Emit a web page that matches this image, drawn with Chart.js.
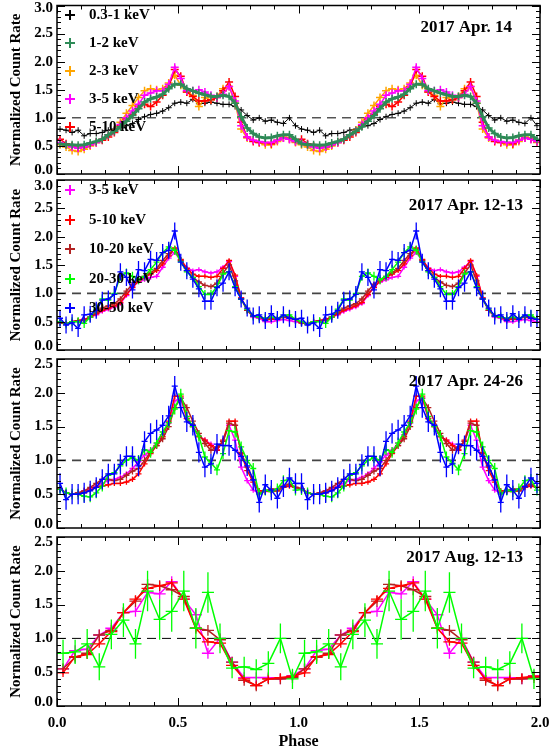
<!DOCTYPE html>
<html><head><meta charset="utf-8">
<script src="https://cdn.jsdelivr.net/npm/chart.js@4/dist/chart.umd.min.js"></script>
<style>
html,body{margin:0;padding:0;background:#fff;}
#wrap{position:relative;width:551px;height:751px;overflow:hidden;}
canvas{position:absolute;left:0;top:0;}
</style></head><body>
<div id="wrap">
<canvas id="c1" width="551" height="751"></canvas>
<canvas id="c2" width="551" height="751"></canvas>
<canvas id="c3" width="551" height="751"></canvas>
<canvas id="c4" width="551" height="751"></canvas>
</div>
<script>
// ---------- phase bins (one cycle; plotted twice) ----------
const PHASE_40 = [0.0125,0.0375,0.0625,0.0875,0.1125,0.1375,0.1625,0.1875,0.2125,0.2375,0.2625,0.2875,0.3125,0.3375,0.3625,0.3875,0.4125,0.4375,0.4625,0.4875,0.5125,0.5375,0.5625,0.5875,0.6125,0.6375,0.6625,0.6875,0.7125,0.7375,0.7625,0.7875,0.8125,0.8375,0.8625,0.8875,0.9125,0.9375,0.9625,0.9875];
const PHASE_20 = [0.025,0.075,0.125,0.175,0.225,0.275,0.325,0.375,0.425,0.475,0.525,0.575,0.625,0.675,0.725,0.775,0.825,0.875,0.925,0.975];
const X_TICKS = ['0.0','0.5','1.0','1.5','2.0'];

// ---------- 2017 Apr. 14 ----------
const APR14_0p3_1 = [0.80,0.78,0.74,0.78,0.68,0.72,0.72,0.74,0.78,0.80,0.84,0.86,0.90,0.97,1.02,1.06,1.08,1.12,1.18,1.26,1.28,1.26,1.33,1.25,1.26,1.28,1.26,1.24,1.24,1.20,1.14,1.04,0.96,1.00,0.94,0.96,0.92,0.90,1.00,0.86];
const APR14_1_2 = [0.54,0.52,0.52,0.51,0.52,0.55,0.58,0.62,0.70,0.76,0.84,0.94,1.04,1.16,1.28,1.34,1.37,1.42,1.52,1.60,1.60,1.52,1.48,1.44,1.41,1.38,1.38,1.40,1.38,1.26,1.02,0.82,0.72,0.66,0.64,0.65,0.68,0.70,0.70,0.62];
const APR14_2_3 = [0.52,0.48,0.42,0.40,0.44,0.50,0.56,0.62,0.70,0.78,0.92,1.08,1.22,1.36,1.48,1.52,1.50,1.52,1.62,1.76,1.58,1.46,1.40,1.20,1.36,1.32,1.38,1.52,1.56,1.26,0.80,0.64,0.60,0.56,0.52,0.52,0.58,0.66,0.64,0.56];
const APR14_3_5 = [0.56,0.52,0.48,0.46,0.48,0.52,0.56,0.62,0.70,0.76,0.88,1.00,1.12,1.24,1.40,1.44,1.48,1.48,1.60,1.90,1.70,1.48,1.48,1.50,1.46,1.40,1.36,1.42,1.56,1.30,0.86,0.66,0.60,0.58,0.56,0.56,0.60,0.64,0.62,0.58];
const APR14_5_10 = [0.62,0.54,0.50,0.47,0.48,0.52,0.56,0.60,0.66,0.74,0.86,0.98,1.06,1.20,1.24,1.20,1.28,1.40,1.55,1.86,1.74,1.46,1.38,1.30,1.30,1.32,1.36,1.48,1.64,1.38,0.92,0.66,0.58,0.56,0.56,0.54,0.60,0.64,0.62,0.58];

// ---------- 2017 Apr. 12-13 ----------
const APR12_3_5 = [0.48,0.46,0.50,0.52,0.54,0.58,0.62,0.68,0.72,0.76,0.82,0.96,1.12,1.20,1.24,1.28,1.30,1.46,1.62,1.72,1.58,1.45,1.40,1.42,1.38,1.36,1.38,1.46,1.56,1.30,0.92,0.70,0.58,0.56,0.50,0.50,0.52,0.54,0.52,0.50];
const APR12_5_10 = [0.48,0.46,0.50,0.52,0.54,0.58,0.64,0.70,0.74,0.78,0.84,0.98,1.10,1.22,1.28,1.34,1.40,1.52,1.66,1.80,1.60,1.44,1.34,1.30,1.30,1.28,1.30,1.44,1.58,1.32,0.92,0.70,0.60,0.58,0.54,0.54,0.56,0.58,0.56,0.54];
const APR12_10_20 = [0.48,0.46,0.50,0.52,0.52,0.58,0.66,0.74,0.78,0.82,0.90,1.04,1.16,1.24,1.30,1.36,1.44,1.58,1.70,1.78,1.58,1.40,1.28,1.20,1.14,1.12,1.18,1.36,1.50,1.22,0.90,0.70,0.60,0.58,0.54,0.56,0.56,0.58,0.58,0.54];
const APR12_20_30 = [0.50,0.46,0.50,0.50,0.47,0.58,0.72,0.90,0.88,1.00,1.30,1.36,1.30,1.24,1.30,1.42,1.55,1.72,1.82,1.76,1.56,1.38,1.28,1.12,0.98,0.98,1.12,1.34,1.38,1.12,0.90,0.72,0.60,0.58,0.56,0.58,0.56,0.60,0.62,0.54];
const APR12_30_50 = [0.56,0.44,0.48,0.38,0.62,0.63,0.70,0.88,0.90,0.98,1.38,1.28,1.06,1.42,1.40,1.60,1.58,1.72,1.76,2.10,1.55,1.40,1.25,1.08,0.86,0.86,1.10,1.18,1.38,1.10,0.90,0.74,0.60,0.62,0.52,0.64,0.54,0.62,0.56,0.54];

// ---------- 2017 Apr. 24-26 ----------
const APR24_3_5 = [0.58,0.52,0.50,0.52,0.55,0.58,0.62,0.66,0.70,0.72,0.75,0.80,0.88,0.98,1.08,1.15,1.25,1.38,1.55,1.88,1.92,1.62,1.50,1.36,1.30,1.24,1.16,1.28,1.52,1.30,0.90,0.70,0.56,0.52,0.54,0.56,0.58,0.62,0.64,0.60];
const APR24_5_10 = [0.58,0.52,0.50,0.50,0.52,0.56,0.60,0.62,0.64,0.66,0.66,0.68,0.72,0.80,0.95,1.10,1.22,1.35,1.58,1.95,1.95,1.62,1.50,1.35,1.30,1.22,1.15,1.30,1.58,1.58,1.10,0.85,0.68,0.55,0.55,0.54,0.55,0.60,0.62,0.60];
const APR24_10_20 = [0.58,0.52,0.50,0.52,0.55,0.60,0.66,0.72,0.72,0.70,0.72,0.78,0.84,0.88,1.00,1.12,1.22,1.32,1.50,1.78,1.92,1.78,1.58,1.40,1.25,1.15,1.20,1.28,1.55,1.52,1.12,0.90,0.72,0.52,0.55,0.58,0.55,0.62,0.65,0.60];
const APR24_20_30 = [0.57,0.52,0.50,0.50,0.47,0.46,0.52,0.62,0.78,0.82,0.92,1.00,1.04,1.00,1.16,1.12,1.26,1.42,1.56,1.76,1.98,1.65,1.50,1.36,1.05,0.96,0.86,1.10,1.44,1.42,1.20,1.00,0.88,0.50,0.56,0.54,0.58,0.70,0.72,0.56];
const APR24_30_50 = [0.66,0.42,0.50,0.50,0.52,0.55,0.60,0.72,0.80,0.80,0.94,1.06,1.06,0.92,1.28,1.40,1.45,1.52,1.66,2.10,1.78,1.57,1.52,1.12,0.90,0.95,1.24,1.22,1.22,1.15,1.06,0.92,0.71,0.38,0.64,0.56,0.44,0.61,0.74,0.66];

// ---------- 2017 Aug. 12-13 ----------
const AUG12_3_5 = [0.55,0.82,0.84,1.05,1.15,1.38,1.40,1.68,1.66,1.84,1.58,1.35,0.78,1.00,0.65,0.42,0.42,0.42,0.40,0.45];
const AUG12_5_10 = [0.49,0.73,0.76,0.92,1.10,1.38,1.58,1.74,1.78,1.82,1.58,1.15,0.95,0.93,0.60,0.40,0.30,0.40,0.42,0.44];
const AUG12_10_20 = [0.55,0.72,0.78,1.05,1.12,1.38,1.55,1.80,1.78,1.72,1.62,1.15,1.12,0.98,0.65,0.38,0.30,0.40,0.40,0.42];
const AUG12_20_30 = [0.78,0.80,0.92,0.58,1.06,1.27,0.92,1.70,1.28,1.40,1.70,1.15,1.68,1.00,0.56,0.58,0.54,0.63,1.00,0.40];
const AUG12_20_30_ERR = [0.20,0.18,0.22,0.20,0.22,0.25,0.22,0.30,0.30,0.30,0.30,0.30,0.30,0.22,0.15,0.15,0.15,0.18,0.22,0.15];

// ---------- colours ----------
const C_BLACK='#000000', C_SEAGREEN='#2E8B57', C_ORANGE='#FFA500', C_MAGENTA='#FF00FF',
      C_RED='#FF0000', C_BROWN='#B22222', C_GREEN='#00FF00', C_BLUE='#0000FF';
const SERIF = '"Liberation Serif","Times New Roman",Times,serif';

function twoCycles(phases, vals){
  const pts=[];
  [0,1].forEach(c=>phases.forEach((p,i)=>pts.push({x:p+c,y:vals[i]})));
  return pts;
}

// error bars / bin-width crosses, drawn per dataset to keep z-order
const errPlugin = {
  id:'errbars',
  afterDatasetDraw(chart,args){
    const ds = chart.data.datasets[args.index];
    if (ds.errY===undefined) return;
    const {ctx, chartArea:a, scales:{x,y}} = chart;
    ctx.save();
    ctx.beginPath(); ctx.rect(a.left,a.top,a.right-a.left,a.bottom-a.top); ctx.clip();
    ctx.strokeStyle = ds.borderColor; ctx.lineWidth = ds.errWidth||1.3;
    ctx.beginPath();
    const n = ds.data.length/2;
    ds.data.forEach((p,i)=>{
      const e = Array.isArray(ds.errY)? ds.errY[i%n] : ds.errY;
      const px = x.getPixelForValue(p.x), py = y.getPixelForValue(p.y);
      ctx.moveTo(x.getPixelForValue(p.x-ds.binHalf),py); ctx.lineTo(x.getPixelForValue(p.x+ds.binHalf),py);
      ctx.moveTo(px,y.getPixelForValue(p.y-e)); ctx.lineTo(px,y.getPixelForValue(p.y+e));
    });
    ctx.stroke(); ctx.restore();
  }
};

// frame with inward major/minor ticks, legend and date label
const framePlugin = {
  id:'frame',
  afterLayout(chart){
    // nudge the end labels of the y axis inward, as in the original figure
    const o = chart.options.plugins.frame;
    const s = chart.scales.y;
    const items = s.getLabelItems(chart.chartArea);
    if (!items.length) return;
    items[0].options.translation[1] -= 4;
    items[items.length-1].options.translation[1] += o.topNudge;
  },
  afterDraw(chart){
    const o = chart.options.plugins.frame;
    const {ctx, chartArea:a, scales:{x,y}} = chart;
    ctx.save();
    ctx.strokeStyle='#000'; ctx.lineWidth=1;
    ctx.beginPath();
    for(let i=0;i<=20;i++){
      const px=Math.round(x.getPixelForValue(i/10))+0.5, L=(i%5===0)?8:4;
      ctx.moveTo(px,a.bottom); ctx.lineTo(px,a.bottom-L);
      ctx.moveTo(px,a.top); ctx.lineTo(px,a.top+L);
    }
    const ny=Math.round(y.max*10);
    for(let i=0;i<=ny;i++){
      const py=Math.round(y.getPixelForValue(i/10))+0.5, L=(i%5===0)?8:4;
      ctx.moveTo(a.left,py); ctx.lineTo(a.left+L,py);
      ctx.moveTo(a.right,py); ctx.lineTo(a.right-L,py);
    }
    ctx.stroke();
    ctx.lineWidth=1.5;
    ctx.strokeRect(a.left,a.top,a.right-a.left,a.bottom-a.top);
    // legend
    ctx.font='bold 15px '+SERIF; ctx.textBaseline='middle'; ctx.textAlign='left';
    (o.legend||[]).forEach((it,k)=>{
      const yy=o.legendY[k];
      ctx.strokeStyle=it.color; ctx.lineWidth=2;
      ctx.beginPath(); ctx.moveTo(65,yy); ctx.lineTo(75,yy); ctx.moveTo(70,yy-5); ctx.lineTo(70,yy+5); ctx.stroke();
      ctx.fillStyle='#000'; ctx.fillText(it.label,89,yy);
    });
    ctx.font='bold 17px '+SERIF; ctx.textAlign='right'; ctx.fillStyle='#000';
    ctx.fillText(o.title,o.titleX,o.titleY);
    ctx.restore();
  }
};

function lineDS(label, phases, vals, color, extra){
  return Object.assign({label, data:twoCycles(phases,vals), borderColor:color, backgroundColor:color,
    borderWidth:1.5, pointRadius:0, tension:0, fill:false}, extra||{});
}
function refLine(color, width){
  return {label:'ref', data:[{x:0,y:1},{x:2,y:1}], borderColor:color||'#000', borderWidth:width||1, borderDash:[9,6],
    pointRadius:0, order:100};
}

function makeChart(id, cfg){
  const tickFont={family:SERIF,weight:'bold',size:15};
  return new Chart(document.getElementById(id),{
    type:'line',
    data:{datasets:cfg.datasets},
    options:{
      responsive:false, animation:false, devicePixelRatio:1,
      layout:{padding:{left:0,right:11,top:cfg.top,bottom:cfg.bottomPad}},
      plugins:{legend:{display:false}, tooltip:{enabled:false}, title:{display:false},
        frame:{legend:cfg.legend, legendY:cfg.legendY, title:cfg.title, titleX:cfg.titleX, titleY:cfg.titleY, topNudge:cfg.topNudge}},
      scales:{
        x:{type:'linear', min:0, max:2, display:cfg.showX,
          afterFit(s){ s.height = cfg.showX ? 45 : 0; s.paddingLeft=0; s.paddingRight=0; },
          afterBuildTicks(s){ s.ticks = X_TICKS.map(t=>({value:parseFloat(t)})); },
          ticks:{color:'#000', font:tickFont, padding:8, maxRotation:0, autoSkip:false,
            callback:(v)=>X_TICKS.find(t=>parseFloat(t)===v)},
          grid:{display:false, drawTicks:false}, border:{display:false},
          title:{display:true, text:'Phase', color:'#000', font:{family:SERIF,weight:'bold',size:16}, padding:{top:0,bottom:0}}},
        y:{min:0, max:cfg.ymax,
          afterFit(s){ s.width=57; s.paddingTop=0; s.paddingBottom=0; },
          ticks:{stepSize:0.5, color:'#000', font:tickFont, padding:4, callback:(v)=>v.toFixed(1)},
          grid:{display:false, drawTicks:false}, border:{display:false},
          title:{display:true, text:'Normalized Count Rate', color:'#000', font:{family:SERIF,weight:'bold',size:15}, padding:{top:7,bottom:0}}}
      }
    },
    plugins:[errPlugin, framePlugin]
  });
}

makeChart('c1',{
  top:5, bottomPad:751-174, showX:false, ymax:3, topNudge:3,
  title:'2017 Apr. 14', titleX:512, titleY:28,
  legend:[{label:'0.3-1 keV',color:C_BLACK},{label:'1-2 keV',color:C_SEAGREEN},{label:'2-3 keV',color:C_ORANGE},{label:'3-5 keV',color:C_MAGENTA},{label:'5-10 keV',color:C_RED}],
  legendY:[15,43,71,99,127],
  datasets:[
    refLine('#000',1),
    lineDS('0.3-1 keV',PHASE_40,APR14_0p3_1,C_BLACK,{borderWidth:1,pointStyle:'cross',pointRadius:3,pointBorderWidth:1,order:5}),
    lineDS('1-2 keV',PHASE_40,APR14_1_2,C_SEAGREEN,{borderWidth:3,pointStyle:'cross',pointRadius:4,pointBorderWidth:1.5,order:0}),
    lineDS('2-3 keV',PHASE_40,APR14_2_3,C_ORANGE,{pointStyle:'cross',pointRadius:4,pointBorderWidth:1.5,order:3}),
    lineDS('3-5 keV',PHASE_40,APR14_3_5,C_MAGENTA,{pointStyle:'cross',pointRadius:4,pointBorderWidth:1.5,order:1}),
    lineDS('5-10 keV',PHASE_40,APR14_5_10,C_RED,{pointStyle:'cross',pointRadius:4,pointBorderWidth:1.5,order:2})
  ]
});

makeChart('c2',{
  top:180, bottomPad:751-350, showX:false, ymax:3, topNudge:6,
  title:'2017 Apr. 12-13', titleX:523, titleY:206,
  legend:[{label:'3-5 keV',color:C_MAGENTA},{label:'5-10 keV',color:C_RED},{label:'10-20 keV',color:C_BROWN},{label:'20-30 keV',color:C_GREEN},{label:'30-50 keV',color:C_BLUE}],
  legendY:[190,220,249,279,308],
  datasets:[
    refLine('#444',1.6),
    lineDS('3-5 keV',PHASE_40,APR12_3_5,C_MAGENTA,{errY:0.04,binHalf:0.0125,order:5}),
    lineDS('5-10 keV',PHASE_40,APR12_5_10,C_RED,{errY:0.04,binHalf:0.0125,order:4}),
    lineDS('10-20 keV',PHASE_40,APR12_10_20,C_BROWN,{errY:0.05,binHalf:0.0125,order:3}),
    lineDS('20-30 keV',PHASE_40,APR12_20_30,C_GREEN,{errY:0.08,binHalf:0.0125,order:2}),
    lineDS('30-50 keV',PHASE_40,APR12_30_50,C_BLUE,{errY:0.15,binHalf:0.0125,order:1})
  ]
});

makeChart('c3',{
  top:359, bottomPad:751-528, showX:false, ymax:2.5, topNudge:5,
  title:'2017 Apr. 24-26', titleX:523, titleY:382,
  legend:[], legendY:[],
  datasets:[
    refLine('#444',1.6),
    lineDS('3-5 keV',PHASE_40,APR24_3_5,C_MAGENTA,{errY:0.04,binHalf:0.0125,order:5}),
    lineDS('5-10 keV',PHASE_40,APR24_5_10,C_RED,{errY:0.04,binHalf:0.0125,order:4}),
    lineDS('10-20 keV',PHASE_40,APR24_10_20,C_BROWN,{errY:0.05,binHalf:0.0125,order:3}),
    lineDS('20-30 keV',PHASE_40,APR24_20_30,C_GREEN,{errY:0.08,binHalf:0.0125,order:2}),
    lineDS('30-50 keV',PHASE_40,APR24_30_50,C_BLUE,{errY:0.15,binHalf:0.0125,order:1})
  ]
});

makeChart('c4',{
  top:537, bottomPad:0, showX:true, ymax:2.5, topNudge:5,
  title:'2017 Aug. 12-13', titleX:523, titleY:558,
  legend:[], legendY:[],
  datasets:[
    refLine('#000',1),
    lineDS('3-5 keV',PHASE_20,AUG12_3_5,C_MAGENTA,{errY:0.08,binHalf:0.025,order:4}),
    lineDS('10-20 keV',PHASE_20,AUG12_10_20,C_BROWN,{errY:0.08,binHalf:0.025,order:3}),
    lineDS('5-10 keV',PHASE_20,AUG12_5_10,C_RED,{errY:0.06,binHalf:0.025,order:2}),
    lineDS('20-30 keV',PHASE_20,AUG12_20_30,C_GREEN,{errY:AUG12_20_30_ERR,binHalf:0.025,order:1})
  ]
});
</script>
</body></html>
